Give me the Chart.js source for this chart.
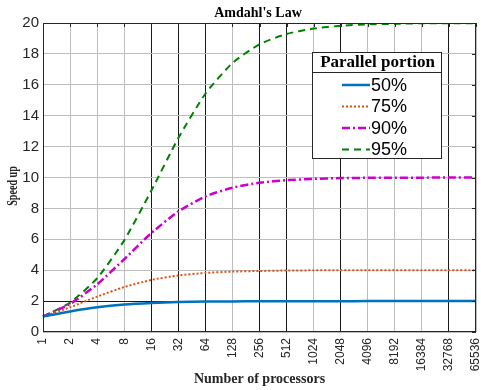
<!DOCTYPE html>
<html>
<head>
<meta charset="utf-8">
<script src="https://cdn.jsdelivr.net/npm/chart.js@4.4.0/dist/chart.umd.min.js"></script>
<style>
  body { margin: 0; background: #fff; }
  canvas { display: block; }
</style>
</head>
<body>
<canvas id="chart" width="481" height="390"></canvas>
<script>
// processor counts (category axis)
const processors = ["1", "2", "4", "8", "16", "32", "64", "128", "256", "512", "1024",
  "2048", "4096", "8192", "16384", "32768", "65536"];

// speed up
const speed50 = [1, 1.33, 1.6, 1.78, 1.88, 1.94, 1.97, 1.98, 1.99, 1.99, 1.99, 1.99, 2, 2, 2, 2, 2];
const speed75 = [1, 1.6, 2.29, 2.91, 3.37, 3.66, 3.82, 3.91, 3.95, 3.98, 3.99, 3.99, 4, 4, 4, 4, 4];
const speed90 = [1, 1.82, 3.08, 4.71, 6.4, 7.8, 8.77, 9.34, 9.66, 9.83, 9.91, 9.96, 9.98, 9.99, 9.99, 10, 10];
const speed95 = [1, 1.9, 3.48, 5.93, 9.14, 12.55, 15.42, 17.41, 18.62, 19.29, 19.64, 19.82, 19.91, 19.95, 19.98, 19.99, 19.99];

const seriesNames = ["50%", "75%", "90%", "95%"];
const yTicks = [0, 2, 4, 6, 8, 10, 12, 14, 16, 18, 20];

// which grid lines are drawn darker in the original
const darkX = [4, 5, 6, 8, 9, 11, 15];
const darkY = [2];

const serif = "'Liberation Serif', 'DejaVu Serif', serif";
const sans = "'Liberation Sans', Arial, sans-serif";

// box, inner ticks, titles and the legend box
const framePlugin = {
  id: "frame",
  afterDraw(chart) {
    const ctx = chart.ctx;
    const a = chart.chartArea;
    const xs = chart.scales.x;
    const ys = chart.scales.y;
    ctx.save();
    ctx.strokeStyle = "#262626";
    ctx.lineWidth = 1;
    ctx.strokeRect(a.left + 0.5, a.top + 0.5, a.right - a.left - 1, a.bottom - a.top - 1);
    ctx.beginPath();
    for (let i = 0; i < processors.length; i++) {
      const x = Math.round(xs.getPixelForValue(i)) + 0.5;
      ctx.moveTo(x, a.top); ctx.lineTo(x, a.top + 4);
    }
    yTicks.forEach(v => {
      const y = Math.round(ys.getPixelForValue(v)) + 0.5;
      ctx.moveTo(a.right, y); ctx.lineTo(a.right - 4, y);
    });
    ctx.stroke();

    // title
    ctx.fillStyle = "#000";
    ctx.font = "bold 14px " + serif;
    ctx.textAlign = "center";
    ctx.textBaseline = "middle";
    ctx.fillText("Amdahl's Law", 258, 13);

    // y title, squeezed like the original
    ctx.save();
    ctx.translate(13, 186);
    ctx.rotate(-Math.PI / 2);
    ctx.scale(0.72, 1);
    ctx.fillStyle = "#262626";
    ctx.fillText("Speed up", 0, 0);
    ctx.restore();

    // legend
    const bx = 312, by = 52, bw = 129, bh = 106;
    ctx.fillStyle = "#fff";
    ctx.fillRect(bx, by, bw, bh);
    ctx.strokeStyle = "#262626";
    ctx.strokeRect(bx + 0.5, by + 0.5, bw, bh);
    ctx.beginPath();
    ctx.moveTo(bx, by + 20.5); ctx.lineTo(bx + bw, by + 20.5);
    ctx.stroke();
    ctx.fillStyle = "#000";
    ctx.font = "bold 17px " + serif;
    ctx.fillText("Parallel portion", bx + bw / 2 + 1, by + 11);
    ctx.textAlign = "left";
    ctx.font = "18px " + sans;
    chart.data.datasets.forEach((ds, i) => {
      const y = 85 + i * 21.5;
      ctx.strokeStyle = ds.borderColor;
      ctx.lineWidth = ds.borderWidth;
      ctx.setLineDash(ds.borderDash || []);
      ctx.beginPath();
      ctx.moveTo(342, y); ctx.lineTo(370, y);
      ctx.stroke();
      ctx.setLineDash([]);
      ctx.fillStyle = "#000";
      ctx.fillText(ds.label, 371, y + 1);
    });
    ctx.restore();
  }
};

new Chart(document.getElementById("chart"), {
  type: "line",
  data: {
    labels: processors,
    datasets: [
      { label: seriesNames[0], data: speed50, borderColor: "rgb(0,114,189)", borderWidth: 2.5 },
      { label: seriesNames[1], data: speed75, borderColor: "rgb(217,83,25)", borderWidth: 2, borderDash: [2, 2] },
      { label: seriesNames[2], data: speed90, borderColor: "rgb(204,0,204)", borderWidth: 2.5, borderDash: [8, 3, 2, 3] },
      { label: seriesNames[3], data: speed95, borderColor: "rgb(0,128,0)", borderWidth: 2, borderDash: [7, 5] }
    ]
  },
  options: {
    responsive: false,
    animation: false,
    elements: { point: { radius: 0 }, line: { tension: 0.2 } },
    layout: { autoPadding: false, padding: { top: 23, right: 5, left: 0, bottom: 0 } },
    plugins: {
      legend: { display: false },
      tooltip: { enabled: false }
    },
    scales: {
      x: {
        grid: {
          drawTicks: false,
          color: c => darkX.includes(c.index) ? "#1a1a1a" : "#bdbdbd"
        },
        border: { display: false },
        ticks: {
          minRotation: 90, maxRotation: 90, autoSkip: false, padding: 6,
          color: "#262626", font: { family: sans, size: 12 }
        },
        title: {
          display: true, text: "Number of processors", color: "#262626",
          font: { family: serif, size: 14, weight: "bold" }, padding: { top: 0, bottom: 2 }
        },
        afterFit: s => { s.height = 58; s.paddingLeft = 0; s.paddingRight = 0; }
      },
      y: {
        min: 0, max: 20,
        afterBuildTicks: s => { s.ticks = yTicks.map(v => ({ value: v })); },
        grid: {
          drawTicks: false,
          color: c => darkY.includes(c.tick.value) ? "#1a1a1a" : "#bdbdbd"
        },
        border: { display: false },
        ticks: { padding: 4, color: "#262626", font: { family: sans, size: 15 } },
        title: { display: false },
        afterFit: s => { s.width = 43; s.paddingTop = 0; s.paddingBottom = 0; }
      }
    }
  },
  plugins: [framePlugin]
});
</script>
</body>
</html>
